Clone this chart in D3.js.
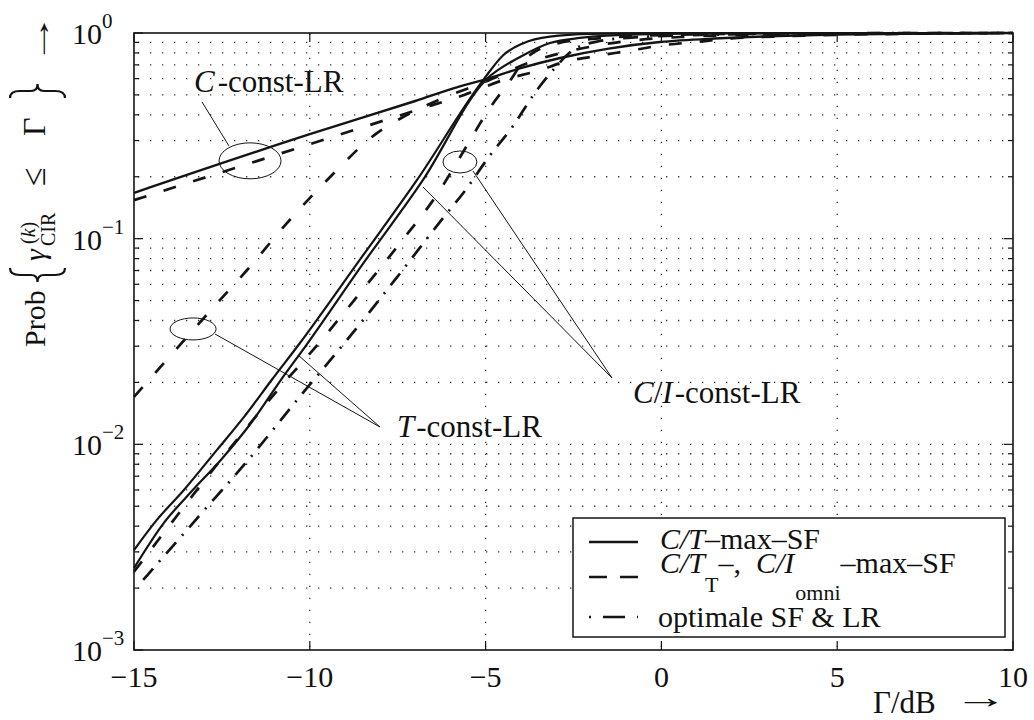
<!DOCTYPE html>
<html><head><meta charset="utf-8">
<script src="https://cdn.jsdelivr.net/npm/d3@7"></script>
<style>
body{margin:0;background:#fff}
svg{display:block}
text{font-family:"Liberation Serif","Times New Roman",serif;fill:#111}
</style>
</head><body><svg id="c" width="1034" height="720" font-family="Liberation Serif"></svg>
<script>
// ---- data: [Gamma in dB, Prob] ----
const cConstSolid = [[-15,0.167],[-10,0.322],[-7,0.467],[-5.61,0.558],[-5.07,0.59],[-4,0.675],[-2.88,0.756],[-1.5,0.84],[-0.04,0.904],[1.5,0.94],[2.5,0.956],[5,0.982],[7.5,0.995],[10,1.0]];
const cConstDashed = [[-15,0.154],[-10,0.288],[-7,0.42],[-5.61,0.50],[-4.5,0.59],[-3.45,0.66],[-2.8,0.72],[-1.8,0.775],[-0.9,0.82],[0,0.87],[1,0.905],[2,0.94],[3.5,0.965],[5,0.98],[7.5,0.993],[10,1.0]];
const tConstDashed = [[-15,0.017],[-12.61,0.0491],[-11.79,0.0702],[-10.65,0.119],[-9.43,0.199],[-8.09,0.326],[-7.35,0.39],[-6.21,0.483],[-5,0.58],[-3.74,0.72],[-1.75,0.874],[0.53,0.956],[3.94,0.989],[10,1.0]];
const tConstSolid = [[-15,0.00306],[-14.35,0.00429],[-13.58,0.006],[-12.64,0.0094],[-11.87,0.0136],[-11.08,0.0206],[-10.28,0.0311],[-8.6,0.078],[-6.95,0.193],[-5.07,0.59],[-4.5,0.78],[-3.94,0.89],[-3.17,0.96],[-2,0.99],[0,0.998],[10,1.0]];
const ciConstSolid = [[-15,0.0025],[-14.15,0.00415],[-13.38,0.00586],[-12.53,0.0084],[-11.67,0.0127],[-10.82,0.0206],[-10.14,0.0297],[-8.5,0.075],[-6.78,0.193],[-5.0,0.59],[-4.02,0.764],[-3.17,0.894],[-2.32,0.946],[-0.61,0.985],[2,0.996],[10,1.0]];
const ciConstDashed = [[-15,0.0024],[-12.67,0.00785],[-10.93,0.0182],[-9.71,0.0315],[-8.57,0.0545],[-7.43,0.0953],[-6.30,0.172],[-5.84,0.231],[-5.39,0.312],[-4.90,0.427],[-4.39,0.559],[-3.82,0.76],[-2.97,0.89],[-2,0.935],[-0.5,0.97],[2,0.99],[5,0.997],[10,1.0]];
const optimal = [[-14.74,0.00219],[-13.15,0.00448],[-11.70,0.0086],[-10.34,0.0166],[-8.94,0.0322],[-7.58,0.063],[-6.21,0.126],[-5.53,0.176],[-4.93,0.247],[-4.22,0.353],[-3.60,0.511],[-3.03,0.676],[-2.51,0.827],[-1.75,0.914],[-0.61,0.956],[1.67,0.983],[5,0.996],[10,1.0]];

const xTicks = [-15,-10,-5,0,5,10];
const xTickLabels = ["\u221215","\u221210","\u22125","0","5","10"];
const yExponents = [0,-1,-2,-3];
const yExpLabels = ["0","\u22121","\u22122","\u22123"];
const legendLabels = ["C/T\u2013max\u2013SF","C/T_T\u2013, C/I_omni\u2013max\u2013SF","optimale SF & LR"];

// ---- layout ----
const svg = d3.select("#c");
const L=134, R=1013, T=33, B=650;
const x = d3.scaleLinear().domain([-15,10]).range([L,R]);
const y = d3.scaleLog().domain([1e-3,1]).range([B,T]);
const ink = "#141414";

// grid
const minorVals = [];
for (let k=-3;k<0;k++) for (let j=1;j<10;j++) minorVals.push(j*Math.pow(10,k));
const gridG = svg.append("g").attr("stroke","#333").attr("stroke-width",1.3).attr("stroke-dasharray","1.3 10.7");
gridG.selectAll("line.h").data(minorVals.filter(v=>v>1e-3+1e-12)).enter().append("line")
  .attr("x1",L+4).attr("x2",R).attr("y1",d=>y(d)).attr("y2",d=>y(d));
gridG.selectAll("line.v").data(xTicks.filter(v=>v>-15&&v<10)).enter().append("line")
  .attr("x1",d=>x(d)).attr("x2",d=>x(d)).attr("y1",B-3).attr("y2",T);

// ticks
const tk = svg.append("g").attr("stroke",ink).attr("stroke-width",1.2);
minorVals.concat([1]).forEach(v=>{
  const major = Math.abs(Math.log10(v)-Math.round(Math.log10(v)))<1e-9;
  const len = major?9:5;
  tk.append("line").attr("x1",L).attr("x2",L+len).attr("y1",y(v)).attr("y2",y(v));
  tk.append("line").attr("x1",R).attr("x2",R-len).attr("y1",y(v)).attr("y2",y(v));
});
xTicks.forEach(v=>{
  tk.append("line").attr("x1",x(v)).attr("x2",x(v)).attr("y1",B).attr("y2",B-9);
  tk.append("line").attr("x1",x(v)).attr("x2",x(v)).attr("y1",T).attr("y2",T+9);
});

// curves
const line = d3.line().x(d=>x(d[0])).y(d=>y(d[1])).curve(d3.curveMonotoneX);
const series = [
  {d:cConstSolid, dash:null, w:2.4},
  {d:cConstDashed, dash:"13 18", w:2.7},
  {d:tConstDashed, dash:"13 19", w:2.7},
  {d:tConstSolid, dash:null, w:2.2},
  {d:ciConstSolid, dash:null, w:2.2},
  {d:ciConstDashed, dash:"13 18", w:2.7},
  {d:optimal, dash:"15 9 2 9", w:2.7}
];
const cg = svg.append("g").attr("fill","none").attr("stroke",ink);
cg.selectAll("path").data(series).enter().append("path")
  .attr("d",s=>line(s.d)).attr("stroke-width",s=>s.w)
  .attr("stroke-dasharray",s=>s.dash);

// frame
svg.append("rect").attr("x",L).attr("y",T).attr("width",R-L).attr("height",B-T)
  .attr("fill","none").attr("stroke",ink).attr("stroke-width",1.6);

// tick labels
const tl = svg.append("g").attr("font-size",30);
xTicks.forEach((v,i)=>{
  tl.append("text").attr("x",x(v)).attr("y",687).attr("text-anchor","middle").text(xTickLabels[i]);
});
yExponents.forEach((e,i)=>{
  const yy = y(Math.pow(10,e));
  tl.append("text").attr("x",102).attr("y",yy+11).attr("text-anchor","end").text("10");
  tl.append("text").attr("x",102).attr("y",yy-5).attr("font-size",21).text(yExpLabels[i]);
});

// x label
const xl = svg.append("g").attr("font-size",31);
xl.append("text").attr("x",873).attr("y",713).text("\u0393/dB");
xl.append("text").attr("transform","translate(954,708) scale(1.75,1)").attr("x",0).attr("y",0).text("\u2192");

// y label (rotated)
function brace(g, x0, yt, yb, left){
  const s = left?1:-1, w = 7, ym = (yt+yb)/2, h = yb-yt;
  const p = `M${x0+s*w},${yt} Q${x0},${yt} ${x0},${yt+h*0.18} L${x0},${ym-h*0.12} Q${x0},${ym} ${x0-s*w},${ym} `+
            `Q${x0},${ym} ${x0},${ym+h*0.12} L${x0},${yb-h*0.18} Q${x0},${yb} ${x0+s*w},${yb}`;
  g.append("path").attr("d",p).attr("fill","none").attr("stroke",ink).attr("stroke-width",2.2);
}
const yl = svg.append("g").attr("transform","translate(45,347) rotate(-90)").attr("font-size",30);
yl.append("text").attr("x",0).attr("y",0).text("Prob");
brace(yl, 72, -35, 20, true);
yl.append("text").attr("x",86).attr("y",0).attr("font-style","italic").text("\u03b3");
yl.append("text").attr("x",103).attr("y",-10).attr("font-size",20).html("(<tspan font-style='italic'>k</tspan>)");
yl.append("text").attr("x",101).attr("y",10).attr("font-size",20).text("CIR");
yl.append("text").attr("x",161).attr("y",0).attr("font-size",34).text("\u2264");
yl.append("text").attr("x",211).attr("y",0).attr("font-size",32).text("\u0393");
brace(yl, 256, -35, 20, false);
yl.append("text").attr("transform","translate(282,4) scale(1.75,1)").attr("x",0).attr("y",0).text("\u2192");

// annotations
const an = svg.append("g").attr("fill","none").attr("stroke",ink).attr("stroke-width",1);
an.append("ellipse").attr("cx",x(-11.70)).attr("cy",y(0.239)).attr("rx",31).attr("ry",18);
an.append("ellipse").attr("cx",x(-13.32)).attr("cy",y(0.0364)).attr("rx",23).attr("ry",11);
an.append("ellipse").attr("cx",x(-5.73)).attr("cy",y(0.236)).attr("rx",17).attr("ry",11);
[[202,102,229,146],[380,427,215,334],[380,427,298,355],[612,378,473,171],[612,378,423,187]].forEach(s=>{
  an.append("line").attr("x1",s[0]).attr("y1",s[1]).attr("x2",s[2]).attr("y2",s[3]);
});
const at = svg.append("g").attr("font-size",31);
at.append("text").attr("x",194).attr("y",92).html("<tspan font-style='italic'>C</tspan><tspan dx='3'>-const-LR</tspan>");
at.append("text").attr("x",397).attr("y",437).html("<tspan font-style='italic'>T</tspan><tspan dx='2'>-const-LR</tspan>");
at.append("text").attr("x",633).attr("y",403).html("<tspan font-style='italic'>C</tspan><tspan>/</tspan><tspan font-style='italic'>I</tspan><tspan dx='2'>-const-LR</tspan>");

// legend
const lg = svg.append("g");
lg.append("rect").attr("x",573).attr("y",518).attr("width",432).attr("height",119)
  .attr("fill","#fff").attr("stroke",ink).attr("stroke-width",1.5);
const lsty = [{y:542,dash:null},{y:577,dash:"18 13"},{y:617,dash:"2 12 22 12 2"}];
lsty.forEach(s=>{
  lg.append("line").attr("x1",589).attr("x2",638).attr("y1",s.y).attr("y2",s.y)
    .attr("stroke",ink).attr("stroke-width",2.4).attr("stroke-dasharray",s.dash);
});
const lt = lg.append("g").attr("font-size",30);
lt.append("text").attr("x",660).attr("y",549).html("<tspan font-style='italic'>C/T</tspan><tspan>\u2013max\u2013SF</tspan>");
lt.append("text").attr("x",660).attr("y",573).html(
  "<tspan font-style='italic'>C/T</tspan><tspan font-size='22' dy='19'>T</tspan><tspan dy='-19'>\u2013,</tspan>"+
  "<tspan x='756' font-style='italic'>C/I</tspan><tspan font-size='22' dy='27' dx='1'>omni</tspan><tspan dy='-27'>\u2013max\u2013SF</tspan>");
lt.append("text").attr("x",658).attr("y",627).text(legendLabels[2]);
</script></body></html>
